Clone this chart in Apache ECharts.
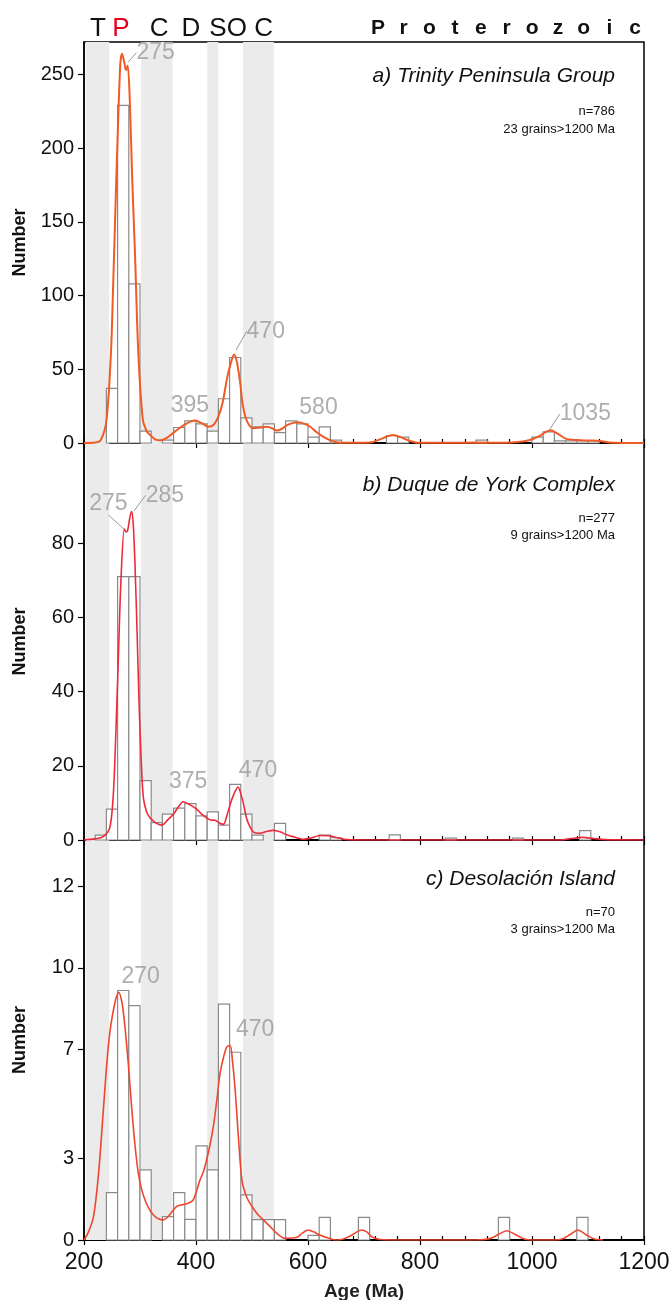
<!DOCTYPE html>
<html>
<head>
<meta charset="utf-8">
<script src="https://cdn.jsdelivr.net/npm/echarts@6/dist/echarts.min.js"></script>
<style>
  html, body { margin: 0; padding: 0; background: #fff; }
  #chart { width: 670px; height: 1300px; }
</style>
</head>
<body>
<div id="chart"></div>
<script>
// histogram bins: [bin start (Ma), count], bins are 20 Ma wide
const histA = [[240,37],[260,229],[280,108],[300,8],[340,2],[360,10.5],[380,15],[400,13],[420,8],
  [440,30],[460,58],[480,17],[500,11],[520,13],[540,7],[560,15],[580,13],[600,4],[620,11],[640,2],
  [740,5],[760,4],[900,2],[1000,4],[1020,7.5],[1040,1.5],[1060,1.5],[1080,1.5],[1100,1.5]];
const histB = [[220,1.3],[240,8.3],[260,71],[280,71],[300,16],[320,4.7],[340,7],[360,8.6],[380,9.8],
  [400,6.5],[420,7.6],[440,4],[460,15],[480,7],[500,1.3],[540,4.5],[620,1.3],[640,0.6],[745,1.4],
  [845,0.5],[965,0.5],[1085,2.5]];
const histC = [[240,1.74],[260,9.17],[280,8.61],[300,2.58],[340,0.86],[360,1.74],[380,0.76],[400,3.46],
  [420,2.58],[440,8.67],[460,6.9],[480,1.66],[500,0.75],[520,0.75],[540,0.75],[600,0.17],[620,0.83],
  [690,0.83],[940,0.83],[1080,0.83]];

// probability density curves: [age, value]
const kdeA = [[200,0],[220,0.3],[230,2],[240,15],[248,60],[252,106],[257,170],[261,219],[265,258],[268,264],
  [272,258],[275,253],[278,256],[282,230],[286,180],[291,129],[297,61],[305,16],[312,8],[318,5.4],[327,2.5],
  [336,1.8],[348,3.5],[359,6.7],[370,10],[380,12.5],[390,14.5],[398,15.3],[410,13.5],[422,11],[432,12.5],
  [440,18],[448,28],[455,43],[462,54],[468,60],[473,55],[479,40.5],[483,27],[488,18],[495,12],[502,10],
  [515,10.5],[526,11],[536,10],[544,8.4],[553,9.5],[562,12],[572,13.5],[583,14],[594,13],[604,11],[615,7.5],
  [627,4.3],[640,1.8],[651,0.5],[670,0.1],[700,0.2],[716,0.7],[735,3.5],[752,5.4],[768,3.5],[782,1.4],
  [800,0.1],[850,0.1],[900,0.3],[950,0.2],[975,0.6],[996,2],[1012,4.5],[1025,7.5],[1033,8.6],[1045,6.5],
  [1060,3],[1080,2],[1100,1.7],[1121,1.4],[1139,0.3],[1160,0],[1200,0]];
const kdeB = [[200,0],[220,0.3],[235,1],[246,3.3],[252,11.4],[256,25],[261,47.5],[266,70],[272,83.8],[275,83],
  [278,83.5],[282,87],[285,88.6],[288,85],[291,74.5],[295,55],[298,38.5],[302,22],[306,11.4],[312,7.5],[318,6],
  [328,4.6],[339,4],[350,5.5],[360,7],[368,8.8],[377,10.3],[388,9.6],[401,8.3],[410,7],[419,6],[426,5.4],
  [434,5.3],[442,4.6],[449,4.2],[455,6.5],[461,9.6],[468,12.5],[475,14.3],[480,12.5],[485,9.6],[490,6],
  [495,4],[502,2.2],[514,1.8],[526,2.3],[538,2.6],[550,2.2],[562,1.4],[580,0.6],[591,0.2],[605,0.5],
  [621,1.2],[639,1.1],[655,0.5],[670,0.1],[700,0],[800,0],[1050,0],[1070,0.4],[1090,0.7],[1110,0.4],
  [1130,0.1],[1200,0]];
const kdeC = [[200,0],[208,0.3],[217,0.86],[226,2.45],[235,4.9],[240,6.3],[246,7.6],[255,8.7],[262,9.1],
  [268,8.7],[273,7.85],[279,6.5],[285,4.9],[291,3.5],[297,2.45],[303,1.85],[309,1.47],[316,1.15],[324,0.92],
  [333,0.78],[342,0.74],[352,0.9],[365,1.23],[376,1.3],[386,1.35],[395,1.47],[401,1.8],[407,2.2],[413,2.5],
  [419,2.94],[425,3.5],[431,4.17],[437,5.1],[443,6.13],[449,6.7],[455,7.1],[461,7.15],[465,6.6],[470,5.5],
  [475,4],[482,2.2],[490,1.6],[500,1.23],[510,0.95],[520,0.74],[532,0.5],[544,0.25],[559,0.06],[580,0.1],
  [590,0.25],[600,0.37],[610,0.3],[621,0.18],[635,0.08],[651,0],[665,0.05],[680,0.2],[695,0.37],[705,0.3],
  [715,0.1],[730,0.02],[800,0],[900,0],[925,0.05],[940,0.2],[955,0.34],[970,0.2],[985,0.05],[1000,0],
  [1040,0],[1055,0.05],[1068,0.2],[1082,0.37],[1096,0.2],[1110,0.05],[1127,0]];

// peak labels: [age, value, text]
const peaksA = [[278,258,'275'],[471,62.7,'470'],[398,15.3,'395'],[583,14,'580'],[1031,8.8,'1035']];
const peaksB = [[272,83.7,'275'],[289,88.6,'285'],[377,10.3,'375'],[475,14.3,'470']];
const peaksC = [[262,9.1,'270'],[461,7.15,'470']];

// grey period bands (Ma)
const bands = [[203,245],[302,358],[420,440],[484,539]];
const periodAges = [225,266,334,391,439,473,521];
const periodLetters = ['T','P','C','D','S','O','C'];

const yTicksA = [0,50,100,150,200,250];
const yTicksB = [0,20,40,60,80];
const yTicksC = [0,3,7,10,13];
const yLabelsC = ['0','3','7','10','12'];

const FONT = '"Liberation Sans", Arial, sans-serif';
const BIN = 20;

// label offsets (px) and leader on/off
const offA = [[28,-10,true],[30,-19,true],[-5,-15,false],[20,-15,false],[36,-16,true]];
const offB = [[-16,-26,true],[31,-16,true],[5,-20,false],[20,-16,false]];
const offC = [[22,-16,false],[25,-16,false]];

const myChart = echarts.init(document.getElementById('chart'), null, { renderer: 'canvas' });

const grids = [
  { left: 84, right: 26, top: 42, height: 401 },
  { left: 84, right: 26, top: 443, height: 397 },
  { left: 84, right: 26, top: 840, height: 400 },
].map(g => Object.assign(g, {
  show: true, borderColor: '#000', borderWidth: 1.5, backgroundColor: 'transparent',
  containLabel: false, outerBoundsMode: 'none',
}));

function mainX(gi, showLabels) {
  return {
    type: 'value', gridIndex: gi, min: 200, max: 1200, interval: 200, position: 'bottom',
    axisLine: { show: true, onZero: false, lineStyle: { color: '#000', width: 2 } },
    axisTick: { show: true, length: 5, lineStyle: { color: '#000', width: 1.2 } },
    axisLabel: { show: showLabels, fontSize: 23, color: '#111', fontFamily: FONT, margin: 11, formatter: v => String(v) },
    splitLine: { show: false },
    name: showLabels ? 'Age (Ma)' : '', nameLocation: 'middle', nameGap: 42,
    nameTextStyle: { fontSize: 19, fontWeight: 'bold', color: '#222', fontFamily: FONT },
  };
}
function minorX(gi) {
  return {
    type: 'value', gridIndex: gi, min: 200, max: 1200, interval: 40, position: 'bottom',
    axisLine: { show: false },
    axisTick: { show: true, inside: true, length: 4, lineStyle: { color: '#000', width: 1.2 } },
    axisLabel: { show: false }, splitLine: { show: false },
  };
}
function yAx(gi, max, ticks, labels) {
  return {
    type: 'value', gridIndex: gi, min: 0, max: max,
    axisLine: { show: true, lineStyle: { color: '#000', width: 1.5 } },
    axisTick: { show: true, length: 6, customValues: ticks, lineStyle: { color: '#000', width: 1.2 } },
    axisLabel: {
      customValues: ticks, fontSize: 20, color: '#111', fontFamily: FONT, margin: 10,
      formatter: v => labels ? labels[ticks.indexOf(v)] : String(v),
    },
    splitLine: { show: false },
    name: 'Number', nameLocation: 'middle', nameGap: 55,
    nameTextStyle: { fontSize: 18, fontWeight: 'bold', color: '#111', fontFamily: FONT },
  };
}

function histSeries(hist, xi, yi) {
  return {
    type: 'custom', xAxisIndex: xi, yAxisIndex: yi, z: 2, silent: true,
    data: hist,
    encode: { x: 0, y: 1 },
    renderItem: (params, api) => {
      const x0 = api.value(0), h = api.value(1);
      const p0 = api.coord([x0, h]);
      const p1 = api.coord([x0 + BIN, 0]);
      return {
        type: 'rect',
        shape: { x: p0[0], y: p0[1], width: p1[0] - p0[0], height: p1[1] - p0[1] },
        style: { fill: '#fff', stroke: '#8a8a8a', lineWidth: 1.2 },
      };
    },
    markArea: {
      silent: true, z: 1,
      itemStyle: { color: '#ebebeb' },
      data: bands.map(b => [{ xAxis: b[0] }, { xAxis: b[1] }]),
    },
  };
}
function curveSeries(kde, xi, yi, color, w) {
  return {
    type: 'line', xAxisIndex: xi, yAxisIndex: yi, z: 3, silent: true,
    data: kde, showSymbol: false, smooth: 0.3,
    lineStyle: { color: color, width: w },
  };
}
function peakSeries(peaks, offs, xi, yi) {
  return {
    type: 'scatter', xAxisIndex: xi, yAxisIndex: yi, z: 5, silent: true,
    symbolSize: 1, itemStyle: { color: 'rgba(0,0,0,0)' },
    data: peaks.map((p, i) => ({ value: [p[0], p[1]], name: p[2], labelLine: { show: offs[i][2] } })),
    label: { show: true, position: 'inside', formatter: '{b}', color: '#9a9a9a', fontSize: 23, fontFamily: FONT },
    labelLine: { show: true, lineStyle: { color: '#9a9a9a', width: 1 } },
    labelLayout: p => ({ dx: offs[p.dataIndex][0], dy: offs[p.dataIndex][1] }),
  };
}

const topLetters = {
  type: 'value', gridIndex: 0, min: 200, max: 1200, position: 'top',
  axisLine: { show: false }, axisTick: { show: false }, splitLine: { show: false },
  axisLabel: {
    customValues: periodAges, margin: 0,
    formatter: v => {
      const i = periodAges.indexOf(v);
      return i === 1 ? '{r|' + periodLetters[i] + '}' : '{k|' + periodLetters[i] + '}';
    },
    rich: {
      k: { fontSize: 26, color: '#111', fontFamily: FONT },
      r: { fontSize: 26, color: '#e3001b', fontFamily: FONT },
    },
  },
};

const proterozoic = 'Proterozoic'.split('').map((ch, i) => ({
  type: 'text', x: 378 + i * 25.7, y: 28,
  style: { text: ch, fontSize: 21, fontWeight: 'bold', fill: '#111', fontFamily: FONT, align: 'center', verticalAlign: 'middle' },
}));

function t(text, top, size, italic) {
  return {
    text: text, right: 55, top: top, padding: 0,
    textStyle: { fontSize: size, fontStyle: italic ? 'italic' : 'normal', fontWeight: 'normal', color: '#111', fontFamily: FONT },
  };
}

myChart.setOption({
  animation: false,
  backgroundColor: '#fff',
  grid: grids,
  title: [
    t('a) Trinity Peninsula Group', 66, 21, true),
    t('n=786', 105, 13), t('23 grains>1200 Ma', 123, 13),
    t('b) Duque de York Complex', 475, 21, true),
    t('n=277', 512, 13), t('9 grains>1200 Ma', 529, 13),
    t('c) Desolación Island', 869, 21, true),
    t('n=70', 906, 13), t('3 grains>1200 Ma', 923, 13),
  ],
  xAxis: [mainX(0, false), minorX(0), topLetters, mainX(1, false), minorX(1), mainX(2, true), minorX(2)],
  yAxis: [yAx(0, 272, yTicksA), yAx(1, 107, yTicksB), yAx(2, 14.7, yTicksC, yLabelsC)],
  graphic: proterozoic,
  series: [
    histSeries(histA, 0, 0), curveSeries(kdeA, 0, 0, '#f15a24', 2), peakSeries(peaksA, offA, 0, 0),
    histSeries(histB, 3, 1), curveSeries(kdeB, 3, 1, '#ee2a3a', 1.6), peakSeries(peaksB, offB, 3, 1),
    histSeries(histC, 5, 2), curveSeries(kdeC, 5, 2, '#f0462f', 1.6), peakSeries(peaksC, offC, 5, 2),
  ],
});
</script>
</body>
</html>
